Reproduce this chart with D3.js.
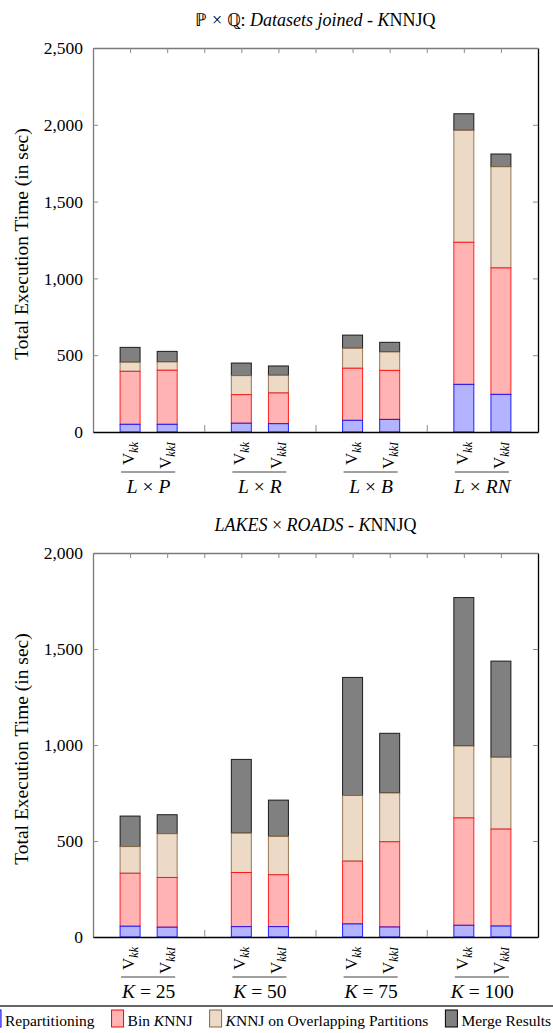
<!DOCTYPE html>
<html>
<head>
<meta charset="utf-8">
<script src="https://cdn.jsdelivr.net/npm/d3@7"></script>
<style>
  body { margin: 0; background: #fff; }
</style>
</head>
<body>
<svg id="chart" width="553" height="1033"></svg>
<script>
// categories
const topGroups = ["L × P", "L × R", "L × B", "L × RN"];
const bottomGroups = ["K = 25", "K = 50", "K = 75", "K = 100"];
const variants = ["kk", "kkI"];
const seriesNames = ["Repartitioning", "Bin KNNJ", "KNNJ on Overlapping Partitions", "Merge Results"];

// top chart values (sec), order: group1 Vkk, group1 VkkI, group2 Vkk, ...
const topRepartitioning = [50, 50, 57, 54, 76, 82, 310, 245];
const topBinKnnj = [345, 352, 186, 200, 339, 319, 925, 823];
const topOverlap = [59, 54, 124, 115, 130, 120, 729, 659];
const topMerge = [97, 69, 82, 61, 86, 63, 108, 83];

// bottom chart values (sec)
const bottomRepartitioning = [56, 51, 54, 54, 68, 52, 61, 57];
const bottomBinKnnj = [276, 259, 282, 270, 327, 444, 559, 505];
const bottomOverlap = [139, 228, 205, 200, 342, 254, 375, 374];
const bottomMerge = [159, 99, 384, 189, 615, 311, 773, 501];

// tick values
const topYTicks = [0, 500, 1000, 1500, 2000, 2500];
const bottomYTicks = [0, 500, 1000, 1500, 2000];

const fills = ["#b3b3ff", "#ffb3b3", "#ecd9c6", "#808080"];
const strokes = ["#0000ff", "#ff0000", "#8a6440", "#000000"];
const FONT = "Liberation Serif";

const svg = d3.select("#chart");
const fmt = d3.format(",");

// italic for latin letters, upright for the rest
function richText(sel, str) {
  const parts = str.match(/[A-Za-z]+|[^A-Za-z]+/g);
  parts.forEach(p => {
    sel.append("tspan")
      .style("font-style", /[A-Za-z]/.test(p) ? "italic" : "normal")
      .text(p);
  });
}
function pieces(sel, list) {
  list.forEach(([t, it]) => sel.append("tspan").style("font-style", it ? "italic" : "normal").text(t));
}

function drawChart(opts) {
  const left = 93, right = 538;
  const x = d3.scaleLinear().domain([0, 12]).range([left, right]);
  const y = d3.scaleLinear().domain([0, opts.max]).range([opts.bottom, opts.top]);
  const g = svg.append("g");

  // bars
  const series = [opts.rep, opts.bin, opts.ovl, opts.mrg];
  const bars = [];
  opts.rep.forEach((_, i) => {
    let acc = 0;
    const pos = Math.floor(i / 2) * 3 + (i % 2) + 1;
    series.forEach((s, k) => {
      bars.push({pos: pos, y0: acc, y1: acc + s[i], k: k});
      acc += s[i];
    });
  });
  const bw = 20;
  g.selectAll("rect.bar").data(bars.slice().sort((a, b) => b.k - a.k)).enter()
    .append("rect").attr("class", "bar")
    .attr("x", d => x(d.pos) - bw / 2)
    .attr("width", bw)
    .attr("y", d => y(d.y1))
    .attr("height", d => y(d.y0) - y(d.y1))
    .attr("fill", d => fills[d.k])
    .attr("stroke", d => strokes[d.k])
    .attr("stroke-width", 1)
    .attr("stroke-opacity", 0.85);

  // axes
  const yl = g.append("g").attr("transform", `translate(${left},0)`)
    .call(d3.axisLeft(y).tickValues(opts.ticks).tickFormat(fmt).tickSizeInner(-5).tickSizeOuter(0).tickPadding(10));
  yl.select(".domain").attr("stroke", "#7a7a7a").attr("stroke-width", 1.3);
  yl.selectAll(".tick line").attr("stroke", "#8a8a8a");
  yl.selectAll(".tick text").style("font-family", FONT).style("font-size", "17.5px").attr("fill", "#000");

  const yr = g.append("g").attr("transform", `translate(${right},0)`)
    .call(d3.axisRight(y).tickValues(opts.ticks.slice(1, -1)).tickFormat("").tickSizeInner(-5).tickSizeOuter(0));
  yr.select(".domain").attr("stroke", "#000").attr("stroke-width", 1.3);
  yr.selectAll(".tick line").attr("stroke", "#8a8a8a");

  const xt = g.append("g").attr("transform", `translate(0,${opts.top})`)
    .call(d3.axisTop(x).tickValues(d3.range(1, 12)).tickFormat("").tickSizeInner(-5).tickSizeOuter(0));
  xt.select(".domain").attr("stroke", "#7a7a7a").attr("stroke-width", 1.3);
  xt.selectAll(".tick line").attr("stroke", "#8a8a8a");

  const xb = g.append("g").attr("transform", `translate(0,${opts.bottom})`)
    .call(d3.axisBottom(x).tickValues([3, 6, 9]).tickFormat("").tickSizeInner(-7).tickSizeOuter(0));
  xb.select(".domain").attr("stroke", "#000").attr("stroke-width", 1.3);
  xb.selectAll(".tick line").attr("stroke", "#8a8a8a");

  // bar labels
  opts.groups.forEach((grp, gi) => {
    variants.forEach((v, vi) => {
      const pos = gi * 3 + vi + 1;
      const t = g.append("text")
        .attr("transform", `translate(${x(pos) + 4},${opts.bottom + 10}) rotate(-90)`)
        .attr("text-anchor", "end")
        .style("font-family", FONT).style("font-size", "17px");
      t.append("tspan").text("V");
      t.append("tspan").style("font-size", "12px").style("font-style", "italic").attr("dy", 4).text(v);
    });
    g.append("line")
      .attr("x1", x(gi * 3 + 1) - 9).attr("x2", x(gi * 3 + 2) + 8)
      .attr("y1", opts.bottom + 40).attr("y2", opts.bottom + 40)
      .attr("stroke", "#808080").attr("stroke-width", 1.5);
    const gl = g.append("text")
      .attr("x", x(gi * 3 + 1.5)).attr("y", opts.bottom + 61)
      .attr("text-anchor", "middle")
      .style("font-family", FONT).style("font-size", "19.5px");
    richText(gl, grp);
  });

  // y label
  g.append("text")
    .attr("transform", `translate(28,${(opts.top + opts.bottom) / 2 + 4}) rotate(-90)`)
    .attr("text-anchor", "middle")
    .style("font-family", FONT).style("font-size", "19.5px")
    .text("Total Execution Time (in sec)");

  // title
  const tt = g.append("text")
    .attr("x", (left + right) / 2).attr("y", opts.top - 22)
    .attr("text-anchor", "middle")
    .style("font-family", FONT).style("font-size", "18px");
  pieces(tt, opts.title);
}

drawChart({
  top: 48, bottom: 432, max: 2500, ticks: topYTicks, groups: topGroups,
  rep: topRepartitioning, bin: topBinKnnj, ovl: topOverlap, mrg: topMerge,
  title: [["ℙ × ℚ: ", false], ["Datasets joined", true], [" - ", false], ["K", true], ["NNJQ", false]]
});
drawChart({
  top: 553, bottom: 937, max: 2000, ticks: bottomYTicks, groups: bottomGroups,
  rep: bottomRepartitioning, bin: bottomBinKnnj, ovl: bottomOverlap, mrg: bottomMerge,
  title: [["LAKES", true], [" × ", false], ["ROADS", true], [" - ", false], ["K", true], ["NNJQ", false]]
});

// legend
const lg = svg.append("g");
lg.append("rect").attr("x", -30).attr("y", 1006).attr("width", 620).attr("height", 40)
  .attr("fill", "none").attr("stroke", "#000").attr("stroke-width", 1.2);
let lx = -11;
const legendRich = [
  [["Repartitioning", false]],
  [["Bin ", false], ["K", true], ["NNJ", false]],
  [["K", true], ["NNJ on Overlapping Partitions", false]],
  [["Merge Results", false]]
];
seriesNames.forEach((name, k) => {
  lg.append("rect").attr("x", lx).attr("y", 1010).attr("width", 12).attr("height", 17)
    .attr("fill", fills[k]).attr("stroke", strokes[k]).attr("stroke-width", 1);
  const t = lg.append("text").attr("x", lx + 16).attr("y", 1026)
    .style("font-family", FONT).style("font-size", "15.5px");
  pieces(t, legendRich[k]);
  lx += 16 + t.node().getComputedTextLength() + 17;
});
</script>
</body>
</html>
